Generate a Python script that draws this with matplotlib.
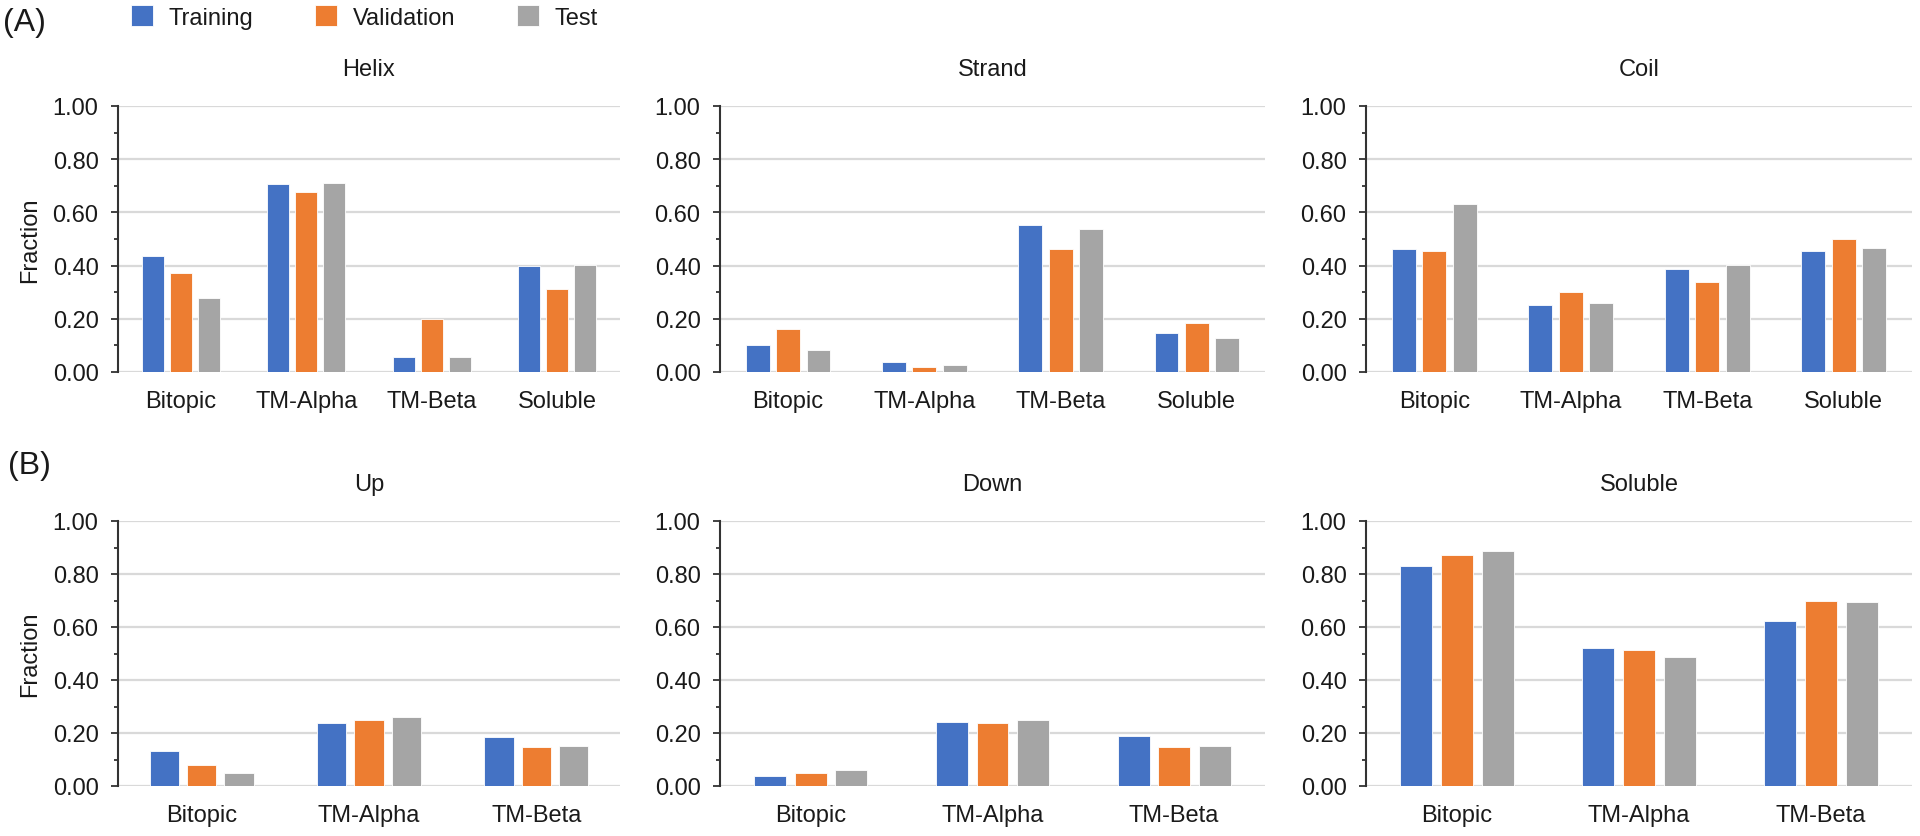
import matplotlib

matplotlib.use("Agg")
import matplotlib.pyplot as plt  # noqa: E402
from matplotlib.patches import Patch  # noqa: E402
from matplotlib.ticker import MultipleLocator, FormatStrFormatter  # noqa: E402

plt.rcParams["font.family"] = ["Liberation Sans", "DejaVu Sans"]

# data
splits = ["Training", "Validation", "Test"]
colors = ["#4472C4", "#ED7D31", "#A5A5A5"]

cats_a = ["Bitopic", "TM-Alpha", "TM-Beta", "Soluble"]
helix = [[0.437, 0.705, 0.056, 0.399],
         [0.374, 0.678, 0.198, 0.312],
         [0.280, 0.711, 0.056, 0.404]]
strand = [[0.100, 0.039, 0.552, 0.146],
          [0.163, 0.020, 0.462, 0.184],
          [0.083, 0.026, 0.537, 0.127]]
coil = [[0.464, 0.252, 0.389, 0.455],
        [0.455, 0.302, 0.340, 0.501],
        [0.632, 0.261, 0.404, 0.465]]

cats_b = ["Bitopic", "TM-Alpha", "TM-Beta"]
up = [[0.131, 0.237, 0.186],
      [0.078, 0.250, 0.149],
      [0.048, 0.259, 0.152]]
down = [[0.038, 0.241, 0.187],
        [0.048, 0.237, 0.149],
        [0.062, 0.248, 0.152]]
soluble = [[0.829, 0.519, 0.623],
           [0.873, 0.515, 0.698],
           [0.888, 0.487, 0.693]]

W, H = 1920, 837
FS = 17
TXT = "#1a1a1a"

fig = plt.figure(figsize=(W / 100, H / 100), dpi=100)


def px_axes(x0, x1, y_top, y_bot):
    return fig.add_axes([x0 / W, 1 - y_bot / H, (x1 - x0) / W, (y_bot - y_top) / H])


def draw(ax, cats, vals, title, ylabel=False):
    step, width = 0.223, 0.175
    for i, (name, col) in enumerate(zip(splits, colors)):
        xs = [k + (i - 1) * step for k in range(len(cats))]
        ax.bar(xs, vals[i], width=width, color=col, edgecolor="white",
               linewidth=0.6, zorder=3)
    ax.set_xlim(-0.5, len(cats) - 0.5)
    ax.set_ylim(0, 1)
    ax.set_xticks(range(len(cats)))
    ax.set_xticklabels(cats, fontsize=FS, color=TXT)
    ax.yaxis.set_major_locator(MultipleLocator(0.2))
    ax.yaxis.set_minor_locator(MultipleLocator(0.1))
    ax.yaxis.set_major_formatter(FormatStrFormatter("%.2f"))
    ax.tick_params(axis="x", length=0, pad=13)
    ax.tick_params(axis="y", which="major", length=5, width=1.3, pad=9,
                   labelsize=FS, labelcolor=TXT, color="#333333")
    ax.tick_params(axis="y", which="minor", length=3, width=1.3, color="#333333")
    for s in ("top", "right", "bottom"):
        ax.spines[s].set_visible(False)
    ax.spines["left"].set_color("#333333")
    ax.spines["left"].set_linewidth(1.5)
    ax.yaxis.grid(True, color="#d9d9d9", linewidth=1.6, zorder=0)
    ax.set_axisbelow(True)
    ax.set_title(title, fontsize=FS, color=TXT, pad=22)
    if ylabel:
        ax.set_ylabel("Fraction", fontsize=FS, color=TXT, labelpad=8)


cols = [(118, 620), (720, 1265), (1366, 1912)]
top = [(helix, "Helix"), (strand, "Strand"), (coil, "Coil")]
bottom = [(up, "Up"), (down, "Down"), (soluble, "Soluble")]

for j, ((x0, x1), (vals, title)) in enumerate(zip(cols, top)):
    draw(px_axes(x0, x1, 107, 373), cats_a, vals, title, ylabel=(j == 0))
for j, ((x0, x1), (vals, title)) in enumerate(zip(cols, bottom)):
    draw(px_axes(x0, x1, 522, 787), cats_b, vals, title, ylabel=(j == 0))

fig.text(3 / W, 1 - 23 / H, "(A)", fontsize=23, color=TXT, va="center", ha="left")
fig.text(8 / W, 1 - 466 / H, "(B)", fontsize=23, color=TXT, va="center", ha="left")

handles = [Patch(facecolor=c, edgecolor="white", linewidth=0.6) for c in colors]
fig.legend(handles, splits, loc="center left", bbox_to_anchor=(131 / W, 1 - 18 / H),
           ncol=3, frameon=False, fontsize=FS, handlelength=0.95, handleheight=0.95,
           handletextpad=0.65, columnspacing=2.6, borderpad=0, borderaxespad=0,
           labelcolor=TXT)

fig.savefig("out.png", dpi=100)
plt.close(fig)
